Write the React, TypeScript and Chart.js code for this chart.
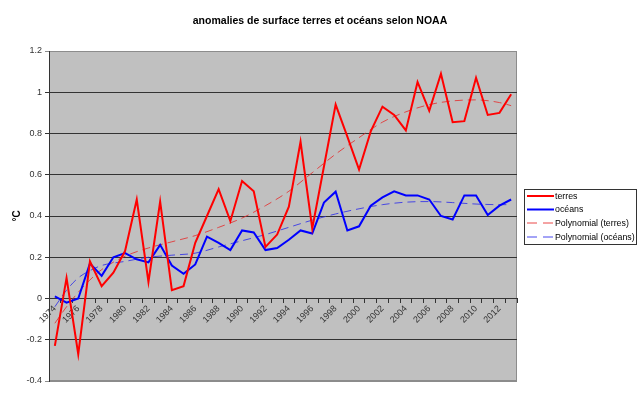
import React, { useEffect, useRef } from "react";
import { Chart, registerables } from "chart.js";

Chart.register(...registerables);

const years = [
  "1974", "1975", "1976", "1977", "1978", "1979", "1980", "1981", "1982", "1983",
  "1984", "1985", "1986", "1987", "1988", "1989", "1990", "1991", "1992", "1993",
  "1994", "1995", "1996", "1997", "1998", "1999", "2000", "2001", "2002", "2003",
  "2004", "2005", "2006", "2007", "2008", "2009", "2010", "2011", "2012", "2013",
];

const terres = [
  -0.23, 0.1, -0.27, 0.18, 0.06, 0.125, 0.23, 0.48, 0.08, 0.47,
  0.04, 0.06, 0.27, 0.4, 0.53, 0.375, 0.57, 0.52, 0.25, 0.31,
  0.445, 0.76, 0.34, 0.64, 0.94, 0.785, 0.625, 0.81, 0.93, 0.89,
  0.815, 1.05, 0.91, 1.09, 0.855, 0.86, 1.07, 0.89, 0.9, 0.99,
];

const oceans = [
  0.01, -0.02, 0.0, 0.17, 0.11, 0.2, 0.22, 0.19, 0.175, 0.26,
  0.16, 0.12, 0.165, 0.3, 0.27, 0.235, 0.33, 0.32, 0.235, 0.245,
  0.285, 0.33, 0.315, 0.465, 0.518, 0.33, 0.35, 0.45, 0.49, 0.52,
  0.5, 0.5, 0.48, 0.4, 0.383, 0.5, 0.5, 0.405, 0.45, 0.48,
];

const trendTerres = [
  -0.12, -0.04, 0.03, 0.09, 0.14, null, 0.205, null, 0.245, null,
  0.275, null, 0.305, null, 0.345, null, 0.39, null, 0.45, null,
  0.52, null, 0.61, null, 0.7, null, 0.78, null, 0.855, null,
  0.905, null, 0.94, null, 0.958, null, 0.963, null, 0.95, 0.935,
];

const trendOceans = [
  -0.04, 0.04, 0.1, 0.135, 0.16, null, 0.18, null, 0.2, null,
  0.21, null, 0.22, null, 0.25, null, 0.28, null, 0.31, null,
  0.345, null, 0.38, null, 0.41, null, 0.435, null, 0.455, null,
  0.467, null, 0.47, null, 0.465, null, 0.458, null, 0.455, 0.455,
];

const titleText = "anomalies de surface terres et océans selon NOAA";
const legendLabels = ["terres", "océans", "Polynomial (terres)", "Polynomial (océans)"];

const FONT = '"Liberation Sans", Arial, sans-serif';

export default function App() {
  const ref = useRef<HTMLCanvasElement | null>(null);

  useEffect(() => {
    document.body.style.margin = "0";
    const canvas = ref.current;
    if (!canvas) return;

    const bgPlugin = {
      id: "plotBg",
      beforeDraw(chart: any) {
        const { ctx, chartArea } = chart;
        ctx.save();
        ctx.fillStyle = "#c0c0c0";
        ctx.fillRect(chartArea.left, chartArea.top, chartArea.right - chartArea.left, chartArea.bottom - chartArea.top);
        ctx.strokeStyle = "#8c8c8c";
        ctx.lineWidth = 1;
        ctx.strokeRect(chartArea.left + 0.5, chartArea.top + 0.5, chartArea.right - chartArea.left - 1, chartArea.bottom - chartArea.top - 1);
        ctx.restore();
      },
    };

    const titleLegendPlugin = {
      id: "titleAndLegend",
      afterDraw(chart: any) {
        const ctx = chart.ctx;
        ctx.save();
        // title, centered on the whole canvas
        ctx.font = `bold 10.5px ${FONT}`;
        ctx.fillStyle = "#000";
        ctx.textAlign = "center";
        ctx.textBaseline = "middle";
        ctx.fillText(titleText, chart.width / 2, 21.5);

        // legend box
        const x = 524.5;
        const y = 189.5;
        const w = 112;
        const h = 55;
        ctx.fillStyle = "#ffffff";
        ctx.fillRect(x, y, w, h);
        ctx.strokeStyle = "#333333";
        ctx.lineWidth = 1;
        ctx.strokeRect(x, y, w, h);
        const rows = [196, 209.5, 223, 237];
        const styles = [
          { c: "#ff0000", w: 2, d: [] as number[] },
          { c: "#0000ff", w: 2, d: [] as number[] },
          { c: "rgba(230,40,40,0.85)", w: 1, d: [10, 6] },
          { c: "rgba(40,40,235,0.85)", w: 1, d: [10, 6] },
        ];
        ctx.font = `8.8px ${FONT}`;
        ctx.textBaseline = "middle";
        ctx.textAlign = "left";
        legendLabels.forEach((label, i) => {
          const s = styles[i];
          ctx.beginPath();
          ctx.setLineDash(s.d);
          ctx.strokeStyle = s.c;
          ctx.lineWidth = s.w;
          ctx.moveTo(527, rows[i]);
          ctx.lineTo(554, rows[i]);
          ctx.stroke();
          ctx.setLineDash([]);
          ctx.fillStyle = "#000";
          ctx.fillText(label, 555, rows[i] + 0.5);
        });
        ctx.restore();
      },
    };

    const chart = new Chart(canvas, {
      type: "line",
      data: {
        labels: years,
        datasets: [
          {
            label: "terres",
            data: terres,
            borderColor: "#ff0000",
            borderWidth: 2,
            pointRadius: 0,
            tension: 0,
            fill: false,
          },
          {
            label: "océans",
            data: oceans,
            borderColor: "#0000ff",
            borderWidth: 2,
            pointRadius: 0,
            tension: 0,
            fill: false,
          },
          {
            label: "Polynomial (terres)",
            data: trendTerres,
            borderColor: "rgba(230,40,40,0.8)",
            borderWidth: 1,
            borderDash: [8, 5],
            pointRadius: 0,
            spanGaps: true,
            cubicInterpolationMode: "monotone",
            fill: false,
          },
          {
            label: "Polynomial (océans)",
            data: trendOceans,
            borderColor: "rgba(40,40,235,0.8)",
            borderWidth: 1,
            borderDash: [8, 5],
            pointRadius: 0,
            spanGaps: true,
            cubicInterpolationMode: "monotone",
            fill: false,
          },
        ] as any,
      },
      options: {
        animation: false,
        responsive: false,
        devicePixelRatio: 1,
        layout: { padding: { left: 0, right: 123, top: 51, bottom: 17 } },
        plugins: {
          legend: { display: false },
          tooltip: { enabled: false },
          title: { display: false },
        },
        scales: {
          x: {
            type: "category",
            position: { y: 0 } as any,
            offset: true,
            grid: {
              drawOnChartArea: false,
              drawTicks: true,
              tickLength: 4,
              color: "#333",
              offset: true,
            },
            border: { display: true, color: "#333", width: 1 },
            ticks: {
              autoSkip: false,
              minRotation: 45,
              maxRotation: 45,
              padding: 1,
              color: "#333",
              font: { family: FONT, size: 9 },
              callback: (_v: any, i: number) => (i % 2 === 0 ? years[i] : ""),
            },
          },
          y: {
            min: -0.4,
            max: 1.2,
            afterFit: (s: any) => {
              s.width = 49;
            },
            ticks: {
              stepSize: 0.2,
              padding: 3,
              color: "#333",
              font: { family: FONT, size: 9 },
              callback: (v: any) => String(Math.round(Number(v) * 10) / 10),
            },
            grid: {
              color: (c: any) => {
                const v = c.tick ? c.tick.value : 0;
                return Math.abs(v - 1.2) < 1e-6 || Math.abs(v + 0.4) < 1e-6 ? "#8c8c8c" : "#333";
              },
              tickLength: 4,
              drawTicks: true,
            },
            border: { display: true, color: "#333", width: 1 },
            title: {
              display: true,
              text: "°C",
              color: "#000",
              font: { family: FONT, size: 10, weight: "bold" },
              padding: { top: 11, bottom: 0 },
            },
          },
        },
      } as any,
      plugins: [bgPlugin, titleLegendPlugin],
    });

    return () => chart.destroy();
  }, []);

  return (
    <div style={{ position: "absolute", left: 0, top: 0, width: 640, height: 398 }}>
      <canvas ref={ref} width={640} height={398} style={{ width: 640, height: 398 }} />
    </div>
  );
}
